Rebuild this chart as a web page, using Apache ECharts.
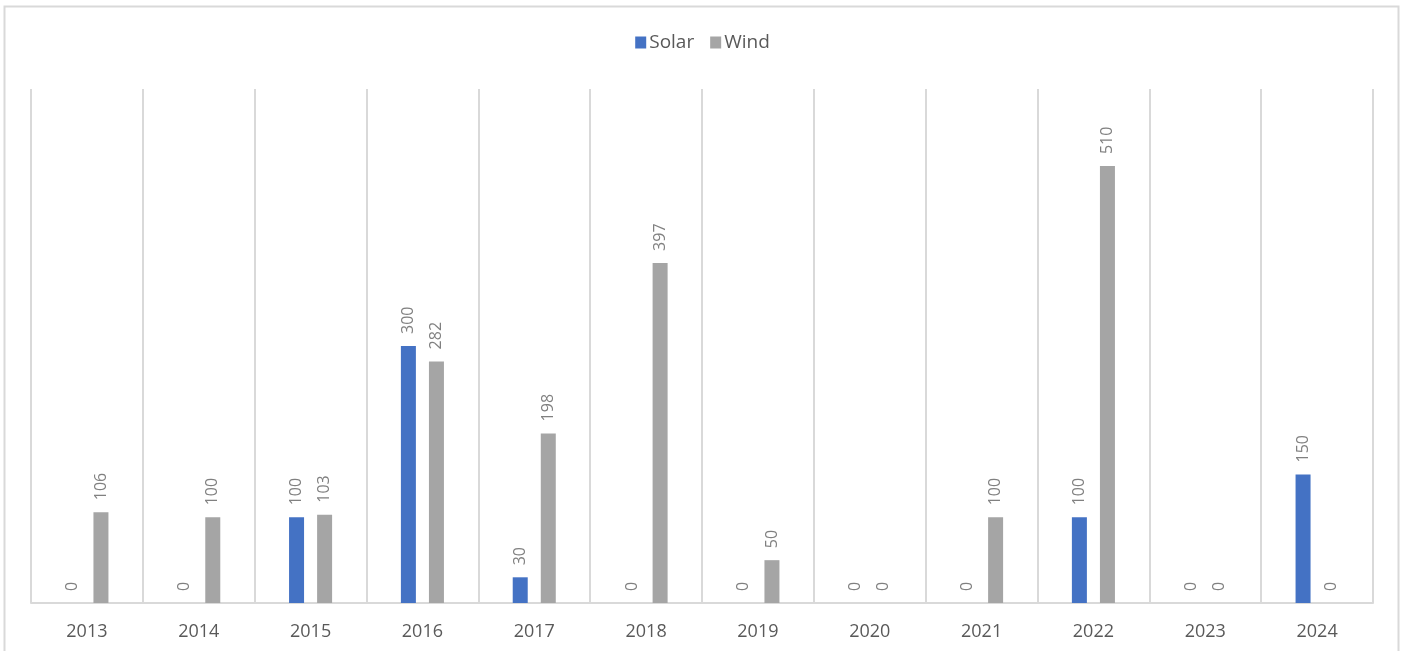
<!DOCTYPE html>
<html>
<head>
<meta charset="utf-8">
<script src="https://cdn.jsdelivr.net/npm/echarts@6/dist/echarts.min.js"></script>
<style>
  html, body { margin: 0; padding: 0; background: #ffffff; }
  #chart { width: 1405px; height: 651px; }
</style>
</head>
<body>
<div id="chart"></div>
<script>
// Annual capacity additions by technology
const years = ['2013', '2014', '2015', '2016', '2017', '2018', '2019', '2020', '2021', '2022', '2023', '2024'];
const solar = [0, 0, 100, 300, 30, 0, 0, 0, 0, 100, 0, 150];
const wind = [106, 100, 103, 282, 198, 397, 50, 0, 100, 510, 0, 0];

const textFont = '"Open Sans", "Liberation Sans", sans-serif';

const valueLabel = {
  show: true,
  position: 'top',
  rotate: 90,
  align: 'left',
  verticalAlign: 'middle',
  distance: 12,
  color: '#808080',
  fontSize: 16,
  fontFamily: textFont
};

const chart = echarts.init(document.getElementById('chart'), null, { renderer: 'canvas' });
chart.setOption({
  animation: false,
  backgroundColor: '#ffffff',
  graphic: [{
    type: 'rect',
    silent: true,
    shape: { x: 4.5, y: 6.5, width: 1394, height: 700 },
    style: { fill: 'none', stroke: '#d9d9d9', lineWidth: 2 }
  }],
  legend: {
    top: 28,
    left: 'center',
    itemWidth: 11,
    itemHeight: 12,
    itemGap: 16,
    icon: 'rect',
    textStyle: { color: '#595959', fontSize: 19, fontFamily: textFont, padding: [0, 0, 0, -2] },
    data: ['Solar', 'Wind']
  },
  grid: { left: 31, right: 32, top: 89, bottom: 48, containLabel: false },
  xAxis: {
    type: 'category',
    data: years,
    boundaryGap: true,
    axisLine: { show: true, lineStyle: { color: '#d9d9d9', width: 2 } },
    axisTick: { show: false },
    splitLine: { show: true, lineStyle: { color: '#d9d9d9', width: 2 } },
    axisLabel: { color: '#595959', fontSize: 18, fontFamily: textFont, margin: 20 }
  },
  yAxis: {
    type: 'value',
    min: 0,
    max: 600,
    show: false,
    splitLine: { show: false }
  },
  series: [
    {
      name: 'Solar',
      type: 'bar',
      data: solar,
      barWidth: 15,
      barGap: '87%',
      itemStyle: { color: '#4472c4' },
      label: valueLabel
    },
    {
      name: 'Wind',
      type: 'bar',
      data: wind,
      barWidth: 15,
      barGap: '87%',
      itemStyle: { color: '#a5a5a5' },
      label: valueLabel
    }
  ]
});
</script>
</body>
</html>
